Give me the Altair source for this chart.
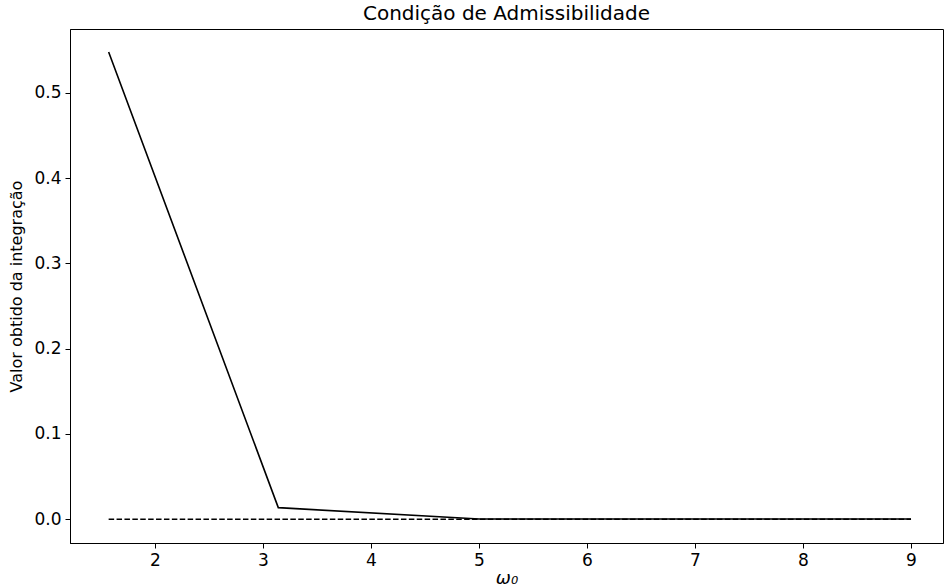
import math
import altair as alt
import pandas as pd

# Admissibility integral evaluated at several omega_0 values
omega0 = [math.pi / 2, math.pi, 5.0, 6.0, 7.0, 8.0, 9.0]
valor = [0.548, 0.0135, 0.0002, 0.0001, 0.0001, 0.0001, 0.0001]

# Zero reference line
ref_x = [math.pi / 2, 9.0]
ref_y = [0.0, 0.0]

curve = pd.DataFrame({"w": omega0, "v": valor})
ref = pd.DataFrame({"w": ref_x, "v": ref_y})

FONT = "DejaVu Sans"

x_scale = alt.Scale(domain=[1.213, 9.296], nice=False, zero=False)
y_scale = alt.Scale(domain=[-0.028, 0.575], nice=False, zero=False)

x_axis = alt.Axis(
    title="ω₀", values=[2, 3, 4, 5, 6, 7, 8, 9], format="d",
    grid=False, titleFontStyle="italic",
)
y_axis = alt.Axis(
    title="Valor obtido da integração", values=[0, 0.1, 0.2, 0.3, 0.4, 0.5],
    format=".1f", grid=False,
)

ref_line = alt.Chart(ref).mark_line(
    color="black", strokeWidth=1.5, strokeDash=[5.5, 2.4]
).encode(
    x=alt.X("w:Q", scale=x_scale, axis=x_axis),
    y=alt.Y("v:Q", scale=y_scale, axis=y_axis),
)

main_line = alt.Chart(curve).mark_line(color="black", strokeWidth=1.6).encode(
    x=alt.X("w:Q", scale=x_scale, axis=x_axis),
    y=alt.Y("v:Q", scale=y_scale, axis=y_axis),
)

chart = (
    alt.layer(ref_line, main_line)
    .properties(
        width=873,
        height=514,
        autosize=alt.AutoSizeParams(type="none"),
        padding={"left": 70, "top": 29, "right": 1, "bottom": 44},
        title=alt.TitleParams(
            "Condição de Admissibilidade", font=FONT, fontSize=20,
            fontWeight="normal", color="black", offset=5,
        ),
    )
    .configure(background="white")
    .configure_view(stroke="black", strokeWidth=1)
    .configure_axis(
        labelFont=FONT, titleFont=FONT, labelFontSize=17, titleFontSize=16,
        labelColor="black", titleColor="black", titleFontWeight="normal",
        domainColor="black", tickColor="black", tickSize=5, labelPadding=4,
    )
    .configure_axisX(titlePadding=1, titleFontSize=18)
    .configure_axisY(titlePadding=9)
)

chart.save("out.html", embed_options={"renderer": "svg", "actions": False})
